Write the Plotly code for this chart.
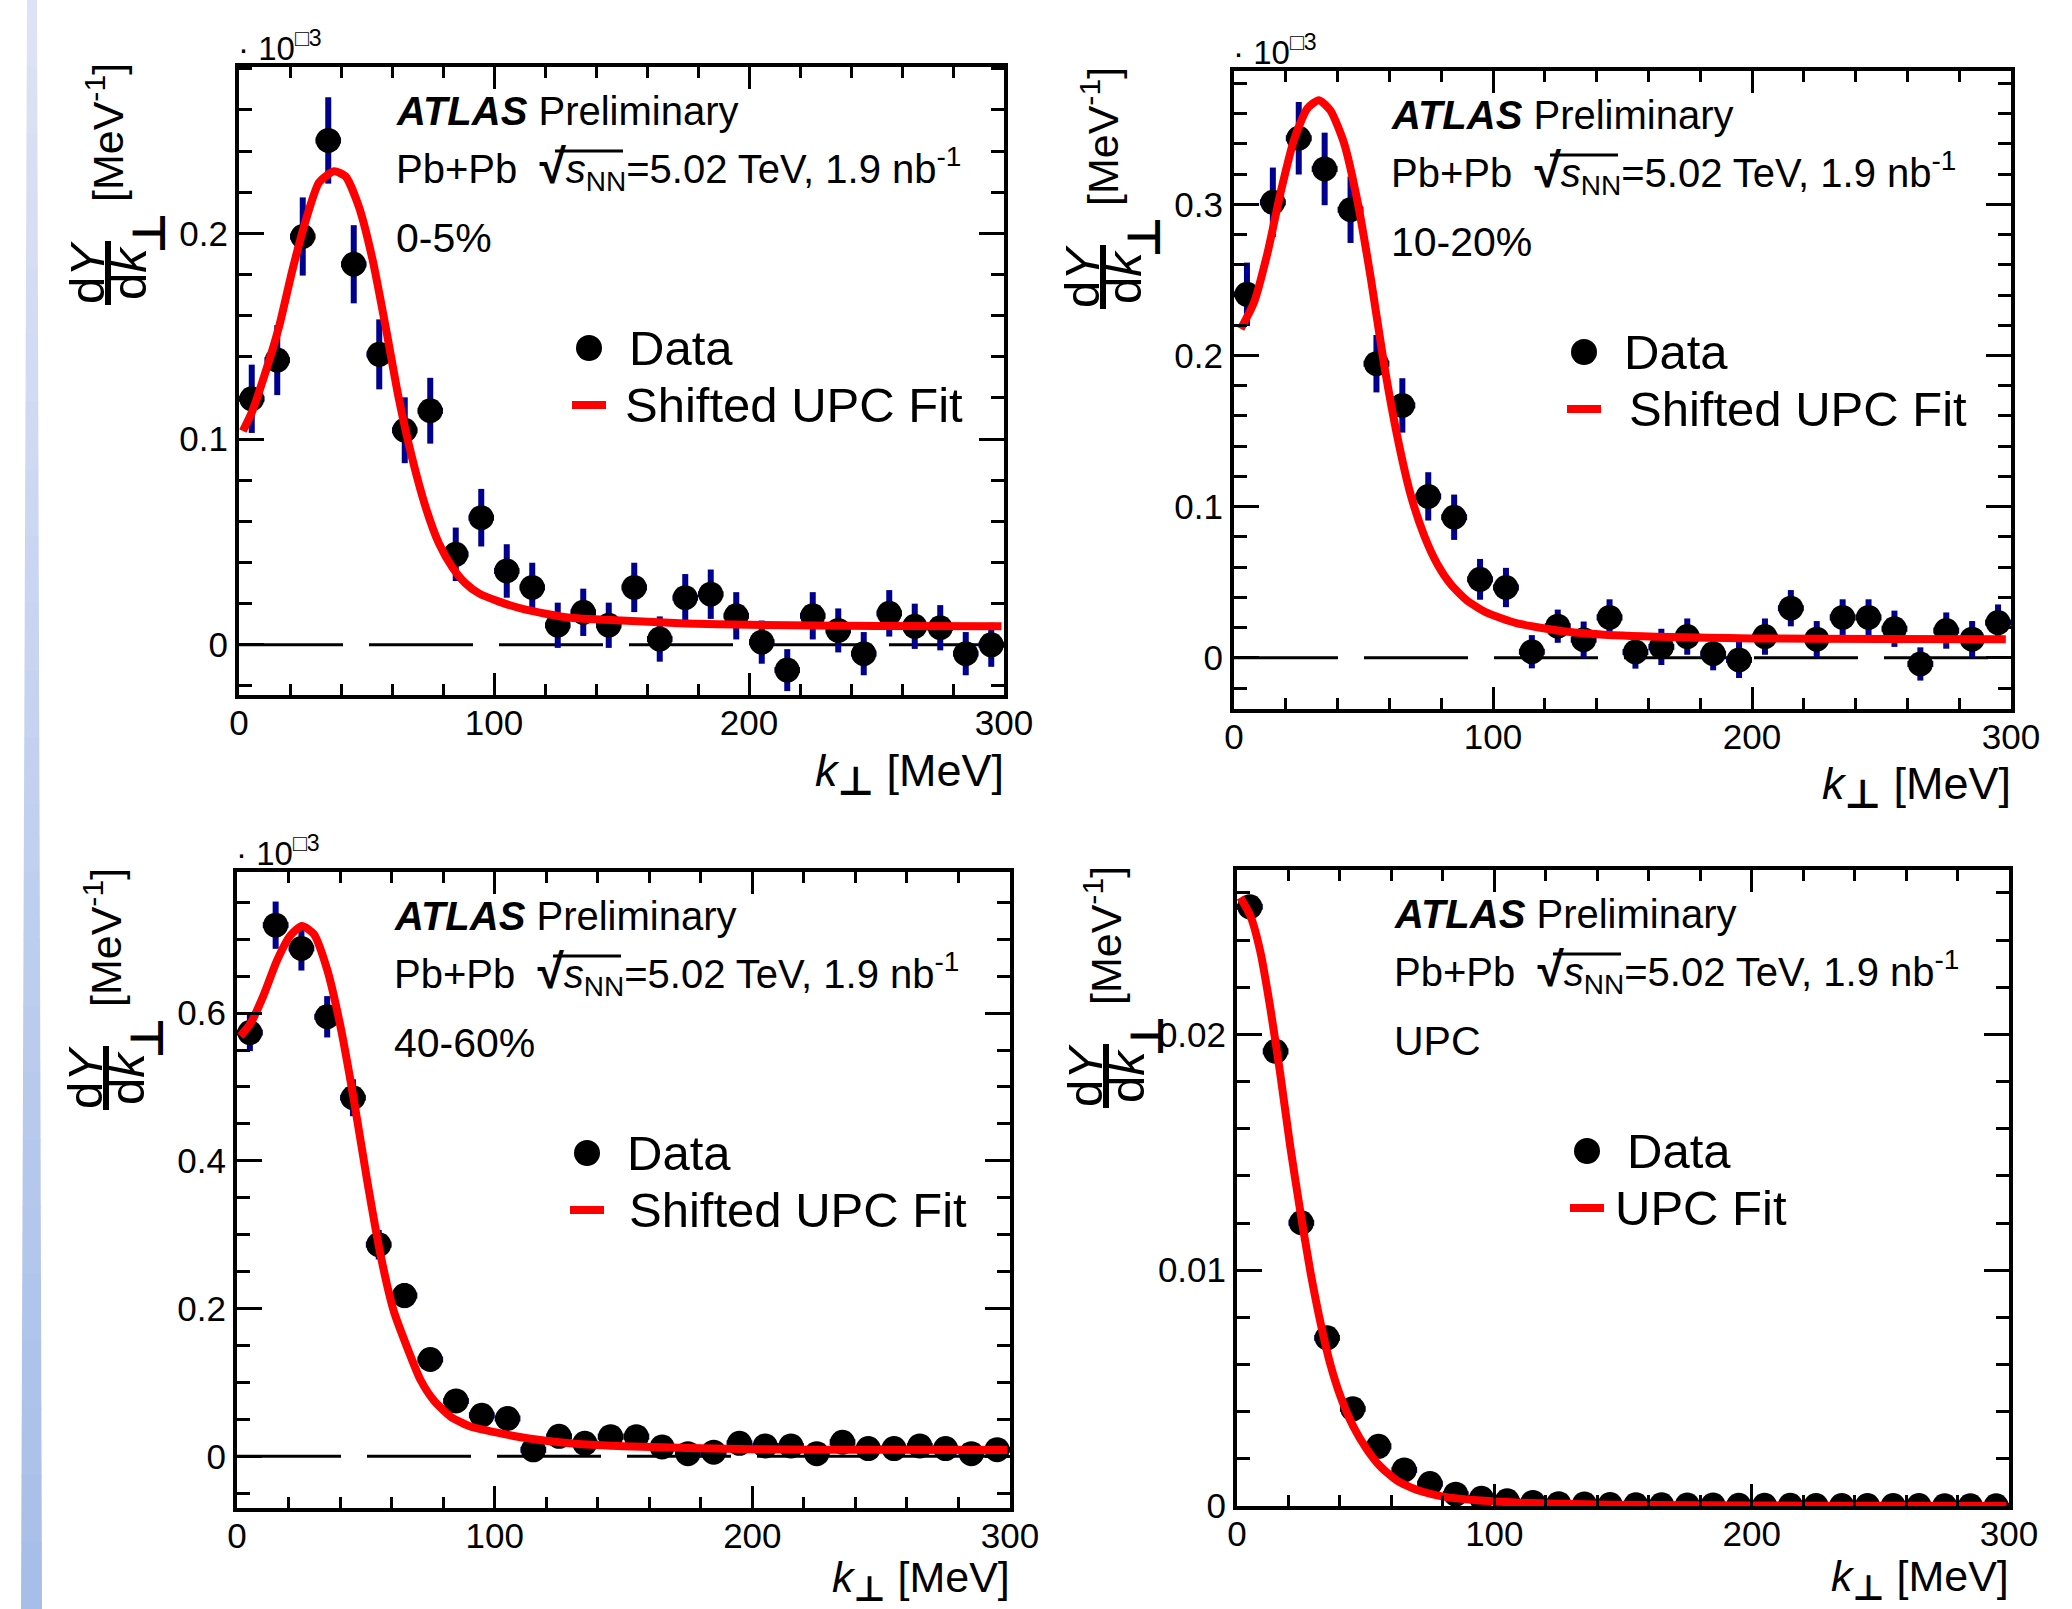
import plotly.graph_objects as go

W, H = 2072, 1609
FONT = "Liberation Sans, Arial, Helvetica, sans-serif"
SYM = "DejaVu Sans, Liberation Sans, sans-serif"

# ---------------- data ----------------
k_centers = [5, 15, 25, 35, 45, 55, 65, 75, 85, 95, 105, 115, 125, 135, 145,
             155, 165, 175, 185, 195, 205, 215, 225, 235, 245, 255, 265, 275, 285, 295]

# 0-5 %
y_0_5 = [0.1196, 0.1384, 0.1985, 0.2452, 0.1850, 0.1412, 0.1043, 0.1138, 0.0440, 0.0618,
         0.0359, 0.0279, 0.0095, 0.0158, 0.0095, 0.0279, 0.0028, 0.0229, 0.0246, 0.0141,
         0.0013, -0.0123, 0.0141, 0.0070, -0.0043, 0.0153, 0.0090, 0.0083, -0.0043, 0.0000]
e_0_5 = [0.0166, 0.0170, 0.0190, 0.0210, 0.0190, 0.0170, 0.0160, 0.0160, 0.0130, 0.0140,
         0.0130, 0.0120, 0.0110, 0.0115, 0.0110, 0.0120, 0.0110, 0.0115, 0.0120, 0.0115,
         0.0105, 0.0102, 0.0115, 0.0107, 0.0105, 0.0113, 0.0110, 0.0110, 0.0105, 0.0107]
fit_x_0_5 = [1.5, 5.2, 10.5, 15.7, 20.9, 26.1, 31.4, 37.3, 41.8, 47.0, 52.3, 57.5, 62.7, 68.0,
             73.2, 78.4, 83.7, 88.9, 94.1, 102, 112, 129, 150, 175, 200, 250, 299]
fit_y_0_5 = [0.1039, 0.1136, 0.1330, 0.1546, 0.1820, 0.2060, 0.2248, 0.2302, 0.2277, 0.2130,
             0.1877, 0.1546, 0.1195, 0.0903, 0.0669, 0.0493, 0.0376, 0.0298, 0.0250, 0.0210,
             0.0172, 0.0133, 0.0118, 0.0104, 0.0097, 0.0092, 0.0090]

# 10-20 %
y_10_20 = [0.2405, 0.3014, 0.3438, 0.3235, 0.2965, 0.1946, 0.1670, 0.1068, 0.0930, 0.0519,
           0.0465, 0.0040, 0.0209, 0.0120, 0.0267, 0.0038, 0.0072, 0.0140, 0.0027, -0.0014,
           0.0140, 0.0328, 0.0123, 0.0267, 0.0267, 0.0192, -0.0041, 0.0180, 0.0123, 0.0233]
e_10_20 = [0.021, 0.023, 0.024, 0.024, 0.022, 0.019, 0.018, 0.016, 0.015, 0.0135,
           0.013, 0.011, 0.011, 0.012, 0.012, 0.011, 0.012, 0.012, 0.011, 0.012,
           0.012, 0.012, 0.012, 0.012, 0.012, 0.012, 0.011, 0.012, 0.012, 0.012]
fit_x_10_20 = [2.6, 7.7, 12.9, 18.0, 23.2, 28.3, 32.8, 37.3, 42.5, 47.6, 52.8, 57.9, 63.1,
               68.2, 73.4, 78.5, 83.7, 90.0, 97.8, 109, 127, 150, 200, 250, 298]
fit_y_10_20 = [0.2176, 0.2350, 0.2676, 0.3080, 0.3430, 0.3635, 0.3690, 0.3620, 0.3405, 0.3027,
               0.2514, 0.1946, 0.1460, 0.1080, 0.0810, 0.0620, 0.0486, 0.0378, 0.0297, 0.0230,
               0.0176, 0.0147, 0.0128, 0.0124, 0.0123]

# 40-60 %
y_40_60 = [0.5736, 0.7190, 0.6876, 0.5950, 0.4854, 0.2865, 0.2176, 0.1310, 0.0750, 0.0556,
           0.0512, 0.0088, 0.0270, 0.0175, 0.0266, 0.0266, 0.0126, 0.0035, 0.0056, 0.0175,
           0.0140, 0.0140, 0.0035, 0.0190, 0.0105, 0.0105, 0.0140, 0.0105, 0.0035, 0.0090]
e_40_60 = [0.025, 0.032, 0.030, 0.028, 0.025, 0.020, 0.017, 0.014, 0.012, 0.011,
           0.011, 0.010, 0.010, 0.010, 0.010, 0.010, 0.010, 0.010, 0.010, 0.010,
           0.010, 0.010, 0.010, 0.010, 0.010, 0.010, 0.010, 0.010, 0.010, 0.010]
fit_x_40_60 = [1.3, 5.2, 10.3, 15.5, 20.7, 25.2, 29.8, 34.9, 40.1, 45.3, 50.5, 55.6, 60.8,
               66.0, 71.2, 76.3, 82.8, 90.6, 101, 114, 128, 150, 200, 250, 299]
fit_y_40_60 = [0.569, 0.5857, 0.624, 0.671, 0.705, 0.718, 0.707, 0.660, 0.583, 0.4837,
               0.3736, 0.2744, 0.197, 0.1477, 0.1036, 0.076, 0.054, 0.0402, 0.032, 0.0237,
               0.018, 0.0135, 0.0095, 0.0088, 0.0085]

# UPC
y_upc = [0.02541, 0.01928, 0.01201, 0.00713, 0.00412, 0.00253, 0.00153, 0.00095, 0.00050, 0.00033,
         0.00022, 0.00015, 0.00010, 0.00008, 0.00006, 0.00005, 0.00005, 0.00004, 0.00004, 0.00003,
         0.00003, 0.00003, 0.00002, 0.00002, 0.00002, 0.00002, 0.00002, 0.00001, 0.00001, 0.00001]
e_upc = [0.00012, 0.00010, 0.00008, 0.00006, 0.00005, 0.00004, 0.00003, 0.00003, 0.00002, 0.00002,
         0.00002, 0.00002, 0.00001, 0.00001, 0.00001, 0.00001, 0.00001, 0.00001, 0.00001, 0.00001,
         0.00001, 0.00001, 0.00001, 0.00001, 0.00001, 0.00001, 0.00001, 0.00001, 0.00001, 0.00001]
fit_x_upc = [1.3, 5.2, 9.1, 13.0, 16.8, 20.7, 24.6, 28.5, 32.4, 36.3, 40.2, 45.3, 50.5, 55.7,
             62.2, 70.0, 80.3, 93.3, 110, 130, 160, 200, 250, 299]
fit_y_upc = [0.0258, 0.02503, 0.02349, 0.02108, 0.01833, 0.01524, 0.01249, 0.00995, 0.00780,
             0.00600, 0.00465, 0.00335, 0.0024, 0.00168, 0.00108, 0.00068, 0.00040, 0.00024,
             0.00014, 0.00008, 0.00004, 0.00002, 0.00001, 0.0]

half_bin = 5

x_ticks = [0, 100, 200, 300]

panels = [
    dict(name="0-5%", y=y_0_5, e=e_0_5, fx=fit_x_0_5, fy=fit_y_0_5, fit_label="Shifted UPC Fit",
         box=(239, 1004, 67, 695), yr=[-0.0244, 0.2809], dtick=0.1, minor=0.02, expo=True, zero=True,
         fitlabel_dx=386, xt_dy=79, xt_size=45, perp_size=40),
    dict(name="10-20%", y=y_10_20, e=e_10_20, fx=fit_x_10_20, fy=fit_y_10_20, fit_label="Shifted UPC Fit",
         box=(1234, 2011, 71, 709), yr=[-0.0339, 0.3883], dtick=0.1, minor=0.02, expo=True, zero=True,
         fitlabel_dx=395, xt_dy=79, xt_size=45, perp_size=40),
    dict(name="40-60%", y=y_40_60, e=e_40_60, fx=fit_x_40_60, fy=fit_y_40_60, fit_label="Shifted UPC Fit",
         box=(237, 1010, 872, 1508), yr=[-0.070, 0.791], dtick=0.2, minor=0.05, expo=True, zero=True,
         fitlabel_dx=392, xt_dy=73, xt_size=43, perp_size=35),
    dict(name="UPC", y=y_upc, e=e_upc, fx=fit_x_upc, fy=fit_y_upc, fit_label="UPC Fit",
         box=(1237, 2009, 870, 1506), yr=[0, 0.02697], dtick=0.01, minor=0.002, expo=False, zero=False,
         fitlabel_dx=378, xt_dy=74, xt_size=43, perp_size=35),
]


def px(x):
    return x / W


def py(y):
    return 1 - y / H


fig = go.Figure()
annotations = []
shapes = []

for i, p in enumerate(panels, start=1):
    xa = "x" if i == 1 else f"x{i}"
    ya = "y" if i == 1 else f"y{i}"
    x0, x1, top, bot = p["box"]

    if p["zero"]:
        shapes.append(dict(type="line", xref=xa, yref=ya, x0=0, x1=300, y0=0, y1=0,
                           line=dict(color="black", width=3, dash="104px,26px"), layer="below"))

    fig.add_trace(go.Scatter(
        x=k_centers, y=p["y"], mode="markers", xaxis=xa, yaxis=ya,
        marker=dict(color="black", size=25, symbol="circle"),
        error_y=dict(type="data", array=p["e"], color="#00008f", thickness=6, width=0),
        error_x=dict(type="constant", value=half_bin, color="#00008f", thickness=6, width=0),
        showlegend=False, cliponaxis=True))
    fig.add_trace(go.Scatter(
        x=p["fx"], y=p["fy"], mode="lines", xaxis=xa, yaxis=ya,
        line=dict(color="#ff0000", width=8, shape="spline", smoothing=0.6),
        showlegend=False))

    axis_common = dict(showline=True, linecolor="black", linewidth=4, mirror="allticks",
                       ticks="inside", tickcolor="black", tickwidth=3, showgrid=False,
                       zeroline=False, automargin=False,
                       tickfont=dict(family=FONT, size=35, color="black"))
    fig.layout[("xaxis" if i == 1 else f"xaxis{i}")] = dict(
        domain=[px(x0), px(x1)], anchor=ya, range=[0, 300], tickvals=x_ticks, ticklen=22,
        ticklabelstandoff=-6,
        minor=dict(dtick=20, ticklen=11, tickwidth=3, tickcolor="black", ticks="inside"),
        **axis_common)
    fig.layout[("yaxis" if i == 1 else f"yaxis{i}")] = dict(
        domain=[py(bot), py(top)], anchor=xa, range=p["yr"], dtick=p["dtick"], tick0=0, ticklen=25,
        minor=dict(dtick=p["minor"], ticklen=13, tickwidth=3, tickcolor="black", ticks="inside"),
        **axis_common)

    # exponent label
    if p["expo"]:
        annotations.append(dict(xref="paper", yref="paper", x=px(x0 - 3), y=py(top + 2),
                                xanchor="left", yanchor="bottom", showarrow=False,
                                text="· 10<sup>\u25a13</sup>",
                                font=dict(family=FONT, size=33, color="black")))

    # ATLAS texts
    tx = x0 + 155
    annotations.append(dict(xref="paper", yref="paper", x=px(tx), y=py(top + 44), xanchor="left",
                            yanchor="middle", showarrow=False,
                            text="<b><i>ATLAS</i></b> Preliminary",
                            font=dict(family=FONT, size=40, color="black")))
    annotations.append(dict(xref="paper", yref="paper", x=px(tx), y=py(top + 101), xanchor="left",
                            yanchor="middle", showarrow=False,
                            text="Pb+Pb  <span style='font-size:48px'><b>\u221a</b></span><i>s</i><sub>NN</sub>=5.02 TeV, 1.9 nb<sup>-1</sup>",
                            font=dict(family=FONT, size=40, color="black")))
    # overline of the square root
    shapes.append(dict(type="line", xref="paper", yref="paper",
                       x0=px(x0 + 316), x1=px(x0 + 384), y0=py(top + 84), y1=py(top + 84),
                       line=dict(color="black", width=3)))
    annotations.append(dict(xref="paper", yref="paper", x=px(tx), y=py(top + 171), xanchor="left",
                            yanchor="middle", showarrow=False, text=p["name"],
                            font=dict(family=FONT, size=41, color="black")))

    # legend
    dot_x, dot_y = x0 + 350, top + 281
    shapes.append(dict(type="circle", xref="paper", yref="paper", xsizemode="pixel",
                       ysizemode="pixel", xanchor=px(dot_x), yanchor=py(dot_y),
                       x0=-13, x1=13, y0=-13, y1=13, fillcolor="black", line=dict(width=0)))
    shapes.append(dict(type="line", xref="paper", yref="paper",
                       x0=px(x0 + 333), x1=px(x0 + 367), y0=py(top + 338), y1=py(top + 338),
                       line=dict(color="#ff0000", width=8)))
    annotations.append(dict(xref="paper", yref="paper", x=px(x0 + 388), y=py(dot_y), xanchor="left",
                            yanchor="middle", showarrow=False, text="Data",
                            font=dict(family=FONT, size=49, color="black")))
    annotations.append(dict(xref="paper", yref="paper", x=px(x0 + p["fitlabel_dx"] - 2), y=py(top + 338),
                            xanchor="left", yanchor="middle", showarrow=False, text=p["fit_label"],
                            font=dict(family=FONT, size=49, color="black")))

    # x title
    perp = (f"<span style='font-family:DejaVu Sans;font-weight:bold;font-size:{p['perp_size']}px'>"
            "\u22a5</span>")
    annotations.append(dict(xref="paper", yref="paper", x=px(x1 + 2), y=py(bot + p["xt_dy"]),
                            xanchor="right", yanchor="middle", showarrow=False,
                            text="<i>k</i><sub>" + perp + "</sub> [MeV]",
                            font=dict(family=FONT, size=p["xt_size"], color="black")))

    # y title (rotated)
    annotations.append(dict(xref="paper", yref="paper", x=px(x0 - 134), y=py(top + 66),
                            xanchor="center", yanchor="middle", showarrow=False, textangle=-90,
                            text="[MeV<sup>-1</sup>]",
                            font=dict(family=FONT, size=43, color="black")))
    annotations.append(dict(xref="paper", yref="paper", x=px(x0 - 152), y=py(top + 206),
                            xanchor="center", yanchor="middle", showarrow=False, textangle=-90,
                            text="d<i>Y</i>", font=dict(family=FONT, size=49, color="black")))
    annotations.append(dict(xref="paper", yref="paper", x=px(x0 - 110), y=py(top + 206),
                            xanchor="center", yanchor="middle", showarrow=False, textangle=-90,
                            text="d<i>k</i>", font=dict(family=FONT, size=49, color="black")))
    annotations.append(dict(xref="paper", yref="paper", x=px(x0 - 90), y=py(top + 166),
                            xanchor="center", yanchor="middle", showarrow=False, textangle=-90,
                            text="<b>\u22a5</b>", font=dict(family=SYM, size=46, color="black")))
    shapes.append(dict(type="line", xref="paper", yref="paper",
                       x0=px(x0 - 131), x1=px(x0 - 131), y0=py(top + 174), y1=py(top + 238),
                       line=dict(color="black", width=6)))

# left decorative stripe (gradient, tapered)
n_seg = 24
c_top = (222, 227, 246)
c_bot = (166, 190, 232)
for s in range(n_seg):
    t0 = s / n_seg
    t1 = (s + 1) / n_seg
    tm = (t0 + t1) / 2
    col = tuple(int(round(c_top[j] + (c_bot[j] - c_top[j]) * tm)) for j in range(3))
    yl0, yl1 = t0 * H, t1 * H + 1
    xl0, xr0 = 27 - 6 * t0, 37 + 5 * t0
    xl1, xr1 = 27 - 6 * t1, 37 + 5 * t1
    path = (f"M {px(xl0)} {py(yl0)} L {px(xr0)} {py(yl0)} L {px(xr1)} {py(yl1)} "
            f"L {px(xl1)} {py(yl1)} Z")
    shapes.append(dict(type="path", xref="paper", yref="paper", path=path,
                       fillcolor=f"rgb{col}", line=dict(width=0), layer="below"))

fig.update_layout(width=W, height=H,
                  margin=dict(l=0, r=0, t=0, b=0, pad=0, autoexpand=False),
                  paper_bgcolor="white", plot_bgcolor="white", showlegend=False,
                  annotations=annotations, shapes=shapes,
                  font=dict(family=FONT, color="black"))

fig.write_html("out.html",
               post_script="document.body.style.margin='0';document.body.style.overflow='hidden';"
                           "document.documentElement.style.overflow='hidden';")
